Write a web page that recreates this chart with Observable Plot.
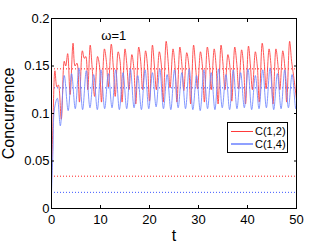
<!DOCTYPE html>
<html><head><meta charset="utf-8">
<script src="https://cdn.jsdelivr.net/npm/d3@7"></script>
<script src="https://cdn.jsdelivr.net/npm/@observablehq/plot@0.6"></script>
<style>
html,body{margin:0;padding:0;background:#fff;}
#wrap{position:relative;width:327px;height:243px;font-family:"Liberation Sans",Arial,sans-serif;}
#legend{position:absolute;left:227px;top:122px;width:61px;height:31px;border:1px solid #000;background:#fff;box-sizing:border-box;font-size:11px;}
#legend .row{position:absolute;left:3px;height:12px;display:flex;align-items:center;}
#legend .sw{width:22px;margin-right:2px;}
</style></head>
<body><div id="wrap"><div id="legend">
<div class="row" style="top:2px"><span class="sw" style="height:1px;background:#ff3a3a"></span><span id="l0"></span></div>
<div class="row" style="top:15px"><span class="sw" style="height:2px;background:#8fa0ff"></span><span id="l1"></span></div>
</div></div>
<script>
const seriesNames = ["C(1,2)", "C(1,4)"];
const xTicks = [0, 10, 20, 30, 40, 50];
const yTicks = [0, 0.05, 0.1, 0.15, 0.2];
const annotation = "ω=1";

const redT = [0,0.3,0.7,1.1,1.4,2.0,2.6,2.9,3.3,3.8,4.4,4.8,5.2,5.7,6.3,6.7,7.0,7.4,7.9,8.3,8.8,9.4,9.8,10.2,10.8,11.2,11.6,12.2,12.6,13.0,13.6,14.0,14.4,15.0,15.4,15.8,16.4,16.8,17.2,17.8,18.2,18.6,19.2,19.6,20.0,20.6,21.0,21.4,22.0,22.4,22.8,23.4,23.8,24.2,24.8,25.2,25.6,26.2,26.6,27.0,27.6,28.0,28.4,29.0,29.4,29.8,30.4,30.8,31.2,31.8,32.2,32.6,33.2,33.6,34.0,34.6,35.0,35.4,36.0,36.4,36.8,37.4,37.8,38.2,38.8,39.2,39.6,40.2,40.6,41.0,41.6,42.0,42.4,43.0,43.4,43.8,44.4,44.8,45.2,45.8,46.2,46.6,47.2,47.6,48.0,48.6,49.0,49.4,50.0];
const redC = [0.030,0.090,0.145,0.128,0.130,0.094,0.155,0.150,0.163,0.120,0.174,0.150,0.153,0.112,0.166,0.158,0.160,0.125,0.172,0.148,0.118,0.160,0.150,0.112,0.168,0.155,0.128,0.173,0.150,0.118,0.165,0.155,0.112,0.168,0.150,0.125,0.162,0.148,0.110,0.170,0.155,0.125,0.166,0.150,0.113,0.172,0.150,0.125,0.165,0.152,0.112,0.176,0.155,0.127,0.168,0.150,0.112,0.170,0.152,0.124,0.164,0.152,0.110,0.172,0.150,0.126,0.165,0.150,0.112,0.170,0.154,0.125,0.168,0.150,0.110,0.172,0.152,0.125,0.162,0.150,0.113,0.170,0.153,0.126,0.167,0.150,0.110,0.171,0.150,0.125,0.165,0.150,0.112,0.174,0.155,0.126,0.168,0.150,0.110,0.168,0.152,0.125,0.166,0.150,0.112,0.176,0.155,0.140,0.115];

const blueT = [0,0.3,0.6,1.2,1.8,2.6,3.4,4.1,4.85,5.6,6.35,7.1,7.85,8.6,9.35,10.1,10.85,11.6,12.35,13.1,13.85,14.6,15.35,16.1,16.85,17.6,18.35,19.1,19.85,20.6,21.35,22.1,22.85,23.6,24.35,25.1,25.85,26.6,27.35,28.1,28.85,29.6,30.35,31.1,31.85,32.6,33.35,34.1,34.85,35.6,36.35,37.1,37.85,38.6,39.35,40.1,40.85,41.6,42.35,43.1,43.85,44.6,45.35,46.1,46.85,47.6,48.35,49.1,49.85,50];
const blueC = [0.017,0.060,0.105,0.116,0.087,0.140,0.103,0.142,0.105,0.148,0.104,0.145,0.106,0.141,0.104,0.146,0.105,0.142,0.106,0.146,0.104,0.143,0.105,0.147,0.106,0.140,0.104,0.146,0.105,0.143,0.107,0.147,0.105,0.141,0.104,0.146,0.106,0.143,0.105,0.147,0.104,0.140,0.103,0.146,0.105,0.143,0.104,0.147,0.106,0.141,0.104,0.146,0.105,0.143,0.106,0.147,0.104,0.140,0.105,0.146,0.106,0.148,0.104,0.142,0.105,0.146,0.106,0.141,0.105,0.108];

const redLevels = [0.147, 0.034];
const blueLevels = [0.127, 0.017];

const red = redT.map((t,i)=>({t, c: redC[i]}));
const blue = blueT.map((t,i)=>({t, c: blueC[i]}));

const RED = "#ff3a3a", BLUE = "#6f86ff";

const chart = Plot.plot({
  width: 327, height: 243,
  marginLeft: 51, marginRight: 31, marginTop: 18, marginBottom: 35,
  style: {fontFamily: '"Liberation Sans", Arial, sans-serif', fontSize: "13px", background: "#fff", overflow: "visible"},
  x: {domain: [0, 50], label: "t"},
  y: {domain: [0, 0.2], label: "Concurrence"},
  marks: [
    Plot.ruleY(redLevels, {stroke: "#ff2020", strokeDasharray: "1,2", strokeWidth: 1}),
    Plot.ruleY(blueLevels, {stroke: "#3a55ff", strokeDasharray: "1,2", strokeWidth: 1}),
    Plot.line(red, {x: "t", y: "c", stroke: RED, strokeWidth: 1, strokeOpacity: 0.85, curve: "catmull-rom"}),
    Plot.line(blue, {x: "t", y: "c", stroke: BLUE, strokeWidth: 1, strokeOpacity: 0.85, curve: "catmull-rom"}),
    Plot.text([annotation], {x: 12.7, y: 0.182, text: d => d, fontSize: 13, fill: "#000"}),
    Plot.frame({stroke: "#000"}),
    Plot.axisX(xTicks, {anchor: "bottom", tickSize: 0, tickPadding: 6, fontSize: 13, label: "t", labelArrow: "none", labelAnchor: "center", labelOffset: 32, tickFormat: d => String(d)}),
    Plot.axisX(xTicks, {anchor: "bottom", tickSize: -3, tickFormat: () => "", label: null}),
    Plot.axisX(xTicks, {anchor: "top", tickSize: -3, tickFormat: () => "", label: null}),
    Plot.axisY(yTicks, {anchor: "left", tickSize: 0, tickPadding: 2, fontSize: 13, label: "Concurrence", labelArrow: "none", labelAnchor: "center", labelOffset: 49, tickFormat: d => String(d)}),
    Plot.axisY(yTicks, {anchor: "left", tickSize: -3, tickFormat: () => "", label: null}),
    Plot.axisY(yTicks, {anchor: "right", tickSize: -3, tickFormat: () => "", label: null})
  ]
});
document.getElementById("wrap").prepend(chart);
document.getElementById("l0").textContent = seriesNames[0];
document.getElementById("l1").textContent = seriesNames[1];
chart.querySelectorAll('[aria-label="x-axis label"] text, [aria-label="y-axis label"] text').forEach(t => {
  t.style.fontSize = "16px";
  t.textContent = t.textContent.replace(/\s*[→↑←↓]\s*/g, "").trim();
});
</script></body></html>
